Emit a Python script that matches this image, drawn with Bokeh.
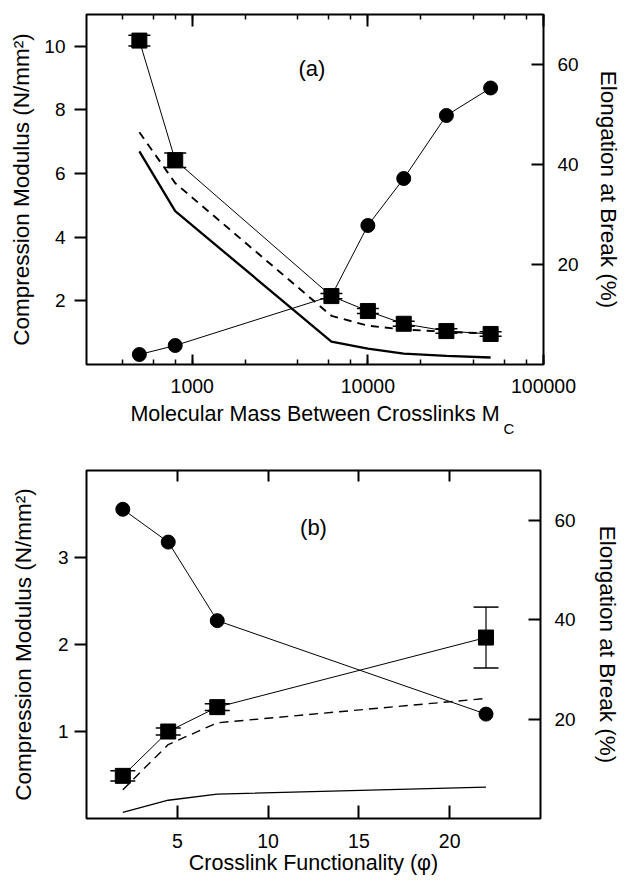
from bokeh.plotting import figure
from bokeh.models import (Range1d, LinearAxis, LogAxis, FixedTicker, LogTicker, Label, Title,
                          Whisker, TeeHead, ColumnDataSource, BasicTickFormatter)
from bokeh.layouts import column
from bokeh.embed import file_html
from bokeh.resources import INLINE

# ---------------- data: panel (a) ----------------
mc = [500, 800, 6200, 10000, 16000, 28000, 50000]
modulus_a = [10.18, 6.42, 2.15, 1.68, 1.28, 1.05, 0.96]
modulus_a_err = [0.17, 0.23, 0.08, 0.08, 0.08, 0.07, 0.07]
elong_a = [2.0, 3.8, 13.7, 27.8, 37.2, 49.8, 55.3]
dashed_a = [7.3, 5.7, 1.53, 1.22, 1.10, 1.03, 0.97]
solid_a = [6.7, 4.82, 0.72, 0.50, 0.34, 0.27, 0.22]

# ---------------- data: panel (b) ----------------
phi = [2, 4.5, 7.2, 22]
modulus_b = [0.49, 1.00, 1.28, 2.08]
modulus_b_err = [0.06, 0.04, 0.04, 0.35]
elong_b = [62.2, 55.6, 39.8, 21.0]
dashed_b = [0.33, 0.85, 1.10, 1.38]
solid_b = [0.07, 0.21, 0.28, 0.36]

yticks_a_left = [2, 4, 6, 8, 10]
yticks_b_left = [1, 2, 3]
yticks_right = [20, 40, 60]
xticks_b = [5, 10, 15, 20]

FONT = "Liberation Sans"
XTICK_FS = "19.5px"
YTICK_FS = "19px"
XLABEL_FS = "21.5px"
YLABEL_FS = "22.5px"


def style_axis(ax, tick_in=0, tick_out=0, minor_in=0, minor_out=0, standoff=8,
               tick_fs=YTICK_FS, label_fs=YLABEL_FS):
    ax.axis_line_color = None
    ax.major_tick_line_color = "black"
    ax.major_tick_line_width = 2
    ax.major_tick_in = tick_in
    ax.major_tick_out = tick_out
    ax.minor_tick_line_color = "black" if (minor_in or minor_out) else None
    ax.minor_tick_line_width = 1.5
    ax.minor_tick_in = minor_in
    ax.minor_tick_out = minor_out
    ax.major_label_text_font = FONT
    ax.major_label_text_font_size = tick_fs
    ax.major_label_text_color = "black"
    ax.major_label_standoff = standoff
    ax.axis_label_text_font = FONT
    ax.axis_label_text_font_size = label_fs
    ax.axis_label_text_font_style = "normal"
    ax.axis_label_text_color = "black"


def hide_labels(ax):
    ax.major_label_text_font_size = "1px"
    ax.major_label_text_color = None
    ax.major_label_standoff = 0


# ================= panel (a) =================
pa = figure(width=625, height=440, x_axis_type="log",
            x_range=Range1d(250, 100000), y_range=Range1d(0, 11),
            output_backend="svg", toolbar_location=None,
            min_border_left=86, min_border_right=72,
            min_border_top=14, min_border_bottom=76)
pa.extra_y_ranges = {"right": Range1d(0, 70)}
pa.grid.visible = False
pa.outline_line_color = "black"
pa.outline_line_width = 2

xa = pa.xaxis[0]
style_axis(xa, tick_in=10, minor_in=5, standoff=14, tick_fs=XTICK_FS, label_fs=XLABEL_FS)
xa.ticker = LogTicker()
xa.formatter = BasicTickFormatter(use_scientific=False)
xa.axis_label = "Molecular Mass Between Crosslinks M"
xa.axis_label_standoff = 6

ya = pa.yaxis[0]
style_axis(ya, tick_out=12, standoff=9)
ya.ticker = FixedTicker(ticks=yticks_a_left)
ya.axis_label = "Compression Modulus (N/mm²)"
ya.axis_label_standoff = 7

top_a = LogAxis(ticker=LogTicker())
style_axis(top_a, tick_in=12, minor_in=5)
hide_labels(top_a)
pa.add_layout(top_a, "above")

right_a = LinearAxis(y_range_name="right", ticker=FixedTicker(ticks=yticks_right),
                     axis_label="Elongation at Break (%)")
style_axis(right_a, tick_in=12, standoff=14)
right_a.axis_label_standoff = 14
pa.add_layout(right_a, "right")

# subscript "C" of M_C, placed just after the axis label
pa.add_layout(Title(text="C", align="left", offset=417, standoff=-18, vertical_align="top",
                    text_font=FONT, text_font_size="15px", text_font_style="normal",
                    text_color="black"), "below")

src_a = ColumnDataSource(dict(
    x=mc, mod=modulus_a, el=elong_a, dash=dashed_a, sol=solid_a,
    up=[m + e for m, e in zip(modulus_a, modulus_a_err)],
    lo=[m - e for m, e in zip(modulus_a, modulus_a_err)]))

pa.line("x", "sol", source=src_a, line_color="black", line_width=2.3)
pa.line("x", "dash", source=src_a, line_color="black", line_width=1.9, line_dash="8 6")
pa.line("x", "mod", source=src_a, line_color="black", line_width=1)
pa.line("x", "el", source=src_a, line_color="black", line_width=1, y_range_name="right")
pa.add_layout(Whisker(source=src_a, base="x", upper="up", lower="lo", dimension="height",
                      line_color="black", line_width=1.2,
                      upper_head=TeeHead(size=22, line_width=1.5, line_color="black"),
                      lower_head=TeeHead(size=22, line_width=1.5, line_color="black")))
pa.scatter("x", "mod", source=src_a, marker="square", size=15,
           fill_color="black", line_color="black")
pa.scatter("x", "el", source=src_a, marker="circle", size=14,
           fill_color="black", line_color="black", y_range_name="right")

pa.add_layout(Label(x=4800, y=9.3, text="(a)", text_align="center", text_baseline="middle",
                    text_font=FONT, text_font_size="22px", text_color="black"))

# ================= panel (b) =================
pb = figure(width=622, height=441,
            x_range=Range1d(0, 25), y_range=Range1d(0, 4),
            output_backend="svg", toolbar_location=None,
            min_border_left=80, min_border_right=74,
            min_border_top=30, min_border_bottom=63)
pb.extra_y_ranges = {"right": Range1d(0, 70)}
pb.grid.visible = False
pb.outline_line_color = "black"
pb.outline_line_width = 2

xb = pb.xaxis[0]
style_axis(xb, tick_in=13, standoff=15, tick_fs=XTICK_FS, label_fs=XLABEL_FS)
xb.ticker = FixedTicker(ticks=xticks_b)
xb.axis_label = "Crosslink Functionality (φ)"
xb.axis_label_standoff = 0

yb = pb.yaxis[0]
style_axis(yb, tick_out=12, standoff=6)
yb.ticker = FixedTicker(ticks=yticks_b_left)
yb.axis_label = "Compression Modulus (N/mm²)"
yb.axis_label_standoff = 19

top_b = LinearAxis(ticker=FixedTicker(ticks=xticks_b))
style_axis(top_b, tick_in=11)
hide_labels(top_b)
pb.add_layout(top_b, "above")

right_b = LinearAxis(y_range_name="right", ticker=FixedTicker(ticks=yticks_right),
                     axis_label="Elongation at Break (%)")
style_axis(right_b, tick_in=12, standoff=14)
right_b.axis_label_standoff = 16
pb.add_layout(right_b, "right")

src_b = ColumnDataSource(dict(
    x=phi, mod=modulus_b, el=elong_b, dash=dashed_b, sol=solid_b,
    up=[m + e for m, e in zip(modulus_b, modulus_b_err)],
    lo=[m - e for m, e in zip(modulus_b, modulus_b_err)]))

pb.line("x", "sol", source=src_b, line_color="black", line_width=1.3)
pb.line("x", "dash", source=src_b, line_color="black", line_width=1.4, line_dash="9 6")
pb.line("x", "mod", source=src_b, line_color="black", line_width=1)
pb.line("x", "el", source=src_b, line_color="black", line_width=1, y_range_name="right")
pb.add_layout(Whisker(source=src_b, base="x", upper="up", lower="lo", dimension="height",
                      line_color="black", line_width=1.2,
                      upper_head=TeeHead(size=25, line_width=1.5, line_color="black"),
                      lower_head=TeeHead(size=25, line_width=1.5, line_color="black")))
pb.scatter("x", "mod", source=src_b, marker="square", size=15,
           fill_color="black", line_color="black")
pb.scatter("x", "el", source=src_b, marker="circle", size=14,
           fill_color="black", line_color="black", y_range_name="right")

pb.add_layout(Label(x=12.5, y=3.34, text="(b)", text_align="center", text_baseline="middle",
                    text_font=FONT, text_font_size="22px", text_color="black"))

layout = column(pa, pb)
open("out.html", "w").write(file_html(layout, INLINE))
